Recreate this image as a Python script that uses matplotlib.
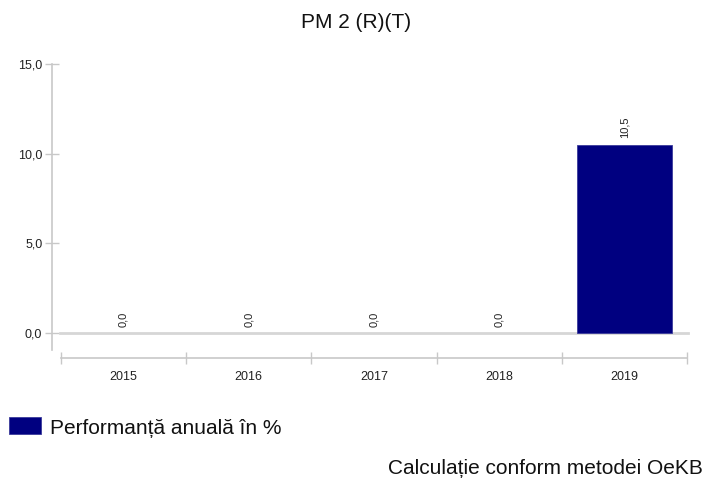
import matplotlib
matplotlib.use("Agg")
import matplotlib.pyplot as plt
from matplotlib.ticker import FixedLocator, FuncFormatter
import matplotlib.patches as mpatches

plt.rcParams['font.family'] = ['Liberation Sans', 'DejaVu Sans']

title = "PM 2 (R)(T)"
years = ["2015", "2016", "2017", "2018", "2019"]
values = [0.0, 0.0, 0.0, 0.0, 10.5]
yticks = [0.0, 5.0, 10.0, 15.0]
legend_label = "Performanță anuală în %"
footer = "Calculație conform metodei OeKB"
bar_color = "#000080"
axis_gray = "#c8c8c8"
text_gray = "#222222"

W, H = 712, 484
fig = plt.figure(figsize=(W / 100, H / 100), dpi=100)

# axes box in pixels: left 52, right 690, top 64, bottom 350
l, r, t, b = 52, 690, 64, 350
ax = fig.add_axes([l / W, 1 - b / H, (r - l) / W, (b - t) / H])

x = list(range(len(years)))
bars = ax.bar(x, values, width=0.76, color=bar_color, edgecolor="#3a3a9a",
              linewidth=0.6, zorder=3)
for bar, v in zip(bars, values):
    if v == 0:
        bar.set_linewidth(0)

ax.set_xlim(-0.572, 4.524)
ax.set_ylim(-0.95, 15.0)

# zero line
span = 4.524 + 0.572
ax.axhline(0, xmin=(-0.508 + 0.572) / span, xmax=(4.508 + 0.572) / span,
           color="#d6d6d6", linewidth=2.0, zorder=2)

# value labels
for xi, v in zip(x, values):
    ax.annotate(f"{v:.1f}".replace(".", ","), (xi, v), xytext=(0, 4.5), textcoords="offset points",
                rotation=90, ha="center", va="bottom", fontsize=8, color=text_gray)

# y axis
for s in ["top", "right"]:
    ax.spines[s].set_visible(False)
ax.spines["left"].set_color(axis_gray)
ax.spines["left"].set_linewidth(1.2)
ax.yaxis.set_major_locator(FixedLocator(yticks))
ax.yaxis.set_major_formatter(FuncFormatter(lambda v, p: f"{v:.1f}".replace(".", ",")))
ax.tick_params(axis="y", direction="inout", length=10, width=1.0, color=axis_gray,
               labelsize=9, labelcolor=text_gray, pad=2)

# category axis
ax.spines["bottom"].set_position(("outward", 6))
ax.spines["bottom"].set_bounds(-0.5, 4.5)
ax.spines["bottom"].set_color(axis_gray)
ax.spines["bottom"].set_linewidth(1.2)
ax.set_xticks(x)
ax.set_xticklabels(years)
ax.set_xticks([i - 0.5 for i in range(len(years) + 1)], minor=True)
ax.tick_params(axis="x", which="major", length=0, labelsize=9, labelcolor=text_gray, pad=9)
ax.tick_params(axis="x", which="minor", direction="inout", length=9, width=1.0, color=axis_gray)

# title
fig.text(356 / W, 1 - 22 / H, title, ha="center", va="center", fontsize=15, color="#111111")

# legend
fig.patches.append(mpatches.Rectangle((9 / W, 1 - 434 / H), 32 / W, 17 / H,
                                      transform=fig.transFigure, facecolor=bar_color,
                                      edgecolor="#3a3a9a", linewidth=0.6))
fig.text(50 / W, 1 - 428 / H, legend_label, ha="left", va="center", fontsize=15, color="#111111")

# footer
fig.text(703 / W, 1 - 468 / H, footer, ha="right", va="center", fontsize=15, color="#111111")

fig.savefig("out.png", dpi=100)
